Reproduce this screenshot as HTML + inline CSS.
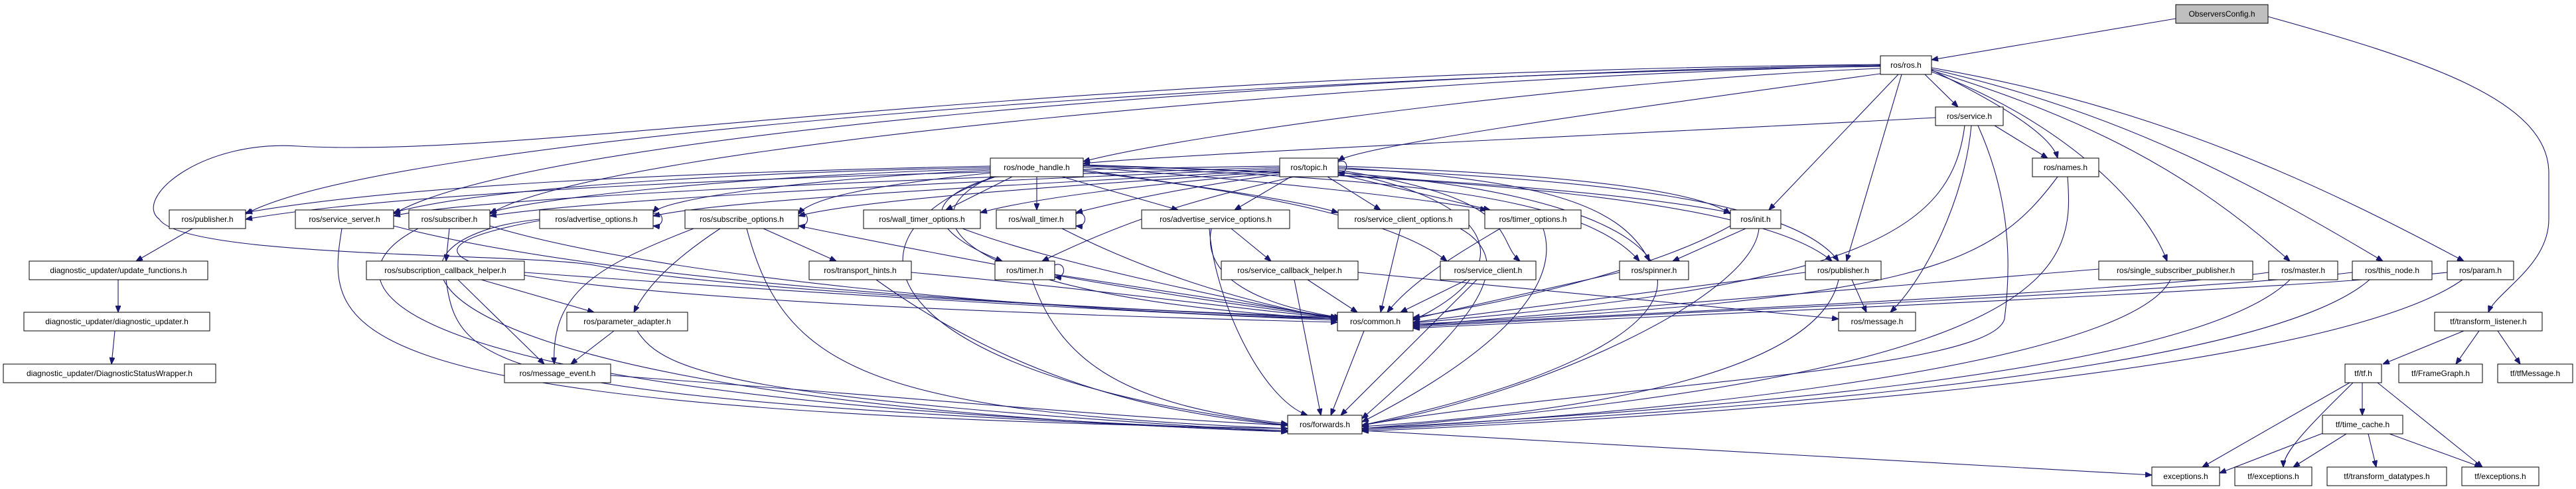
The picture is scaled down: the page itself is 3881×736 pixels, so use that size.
<!DOCTYPE html>
<html><head><meta charset="utf-8"><style>
html,body{margin:0;padding:0;background:#fff;}
svg{display:block;}
.n rect{fill:#fff;stroke:#000;stroke-width:1;}
.n text{font-family:"Liberation Sans",sans-serif;font-size:12px;fill:#000;}
.e path{fill:none;stroke:#191970;stroke-width:1.1;marker-end:url(#a);}
</style></head><body>
<svg width="3881" height="736" viewBox="0 0 3881 736" xmlns="http://www.w3.org/2000/svg">
<defs><marker id="a" markerWidth="10" markerHeight="8" refX="10" refY="4" orient="auto" markerUnits="userSpaceOnUse"><path d="M0,0 L10,4 L0,8 z" fill="#191970" stroke="#191970"/></marker></defs>
<g class="e">
<path d="M3278,28 L2910,90"/>
<path d="M3417,25 C3650,90 3840,150 3840,260 L3840,330 C3840,400 3760,440 3749,470"/>
<path d="M2833,100 C2000,110 600,200 370,322"/>
<path d="M2833,98 C2000,110 800,200 593,322"/>
<path d="M2833,99 C2100,115 900,220 738,322"/>
<path d="M2833,103 C2400,120 1800,200 1632,243"/>
<path d="M2840,110 C2400,170 2050,220 2016,242"/>
<path d="M2900,112 L2950,161"/>
<path d="M2910,105 C3000,150 3090,200 3100,238"/>
<path d="M2860,112 L2665,316"/>
<path d="M2865,112 L2782,393"/>
<path d="M2910,108 C3100,180 3230,300 3265,393"/>
<path d="M2910,106 C3150,180 3300,260 3450,393"/>
<path d="M2910,104 C3200,170 3400,280 3590,393"/>
<path d="M2910,102 C3250,160 3500,280 3712,393"/>
<path d="M2833,97 C1500,110 800,240 450,220 C300,210 200,300 240,330 C280,390 800,380 900,400 C1100,440 1800,470 2015,480"/>
<path d="M2916,177 C2500,200 1800,230 1632,246"/>
<path d="M3005,189 L3085,238"/>
<path d="M2960,189 C2940,350 2800,430 2129,486"/>
<path d="M2970,189 C2960,300 2900,420 2848,470"/>
<path d="M2980,189 C3030,300 3030,400 3020,480 C3000,560 2400,580 2052,640"/>
<path d="M3100,266 C3000,400 2900,450 2129,488"/>
<path d="M3115,266 C3125,400 3120,560 2052,645"/>
<path d="M1492,250 C1000,260 600,280 370,320"/>
<path d="M1492,252 C1000,262 700,290 593,320"/>
<path d="M1492,254 C1100,265 800,300 738,320"/>
<path d="M1492,256 C1200,270 1000,300 984,320"/>
<path d="M1495,260 C1300,280 1220,300 1203,322"/>
<path d="M1525,266 L1425,316"/>
<path d="M1562,266 L1562,316"/>
<path d="M1600,266 L1775,316"/>
<path d="M1632,256 C1800,280 1950,300 2016,320"/>
<path d="M1632,252 C1900,270 2150,300 2240,316"/>
<path d="M1632,248 C2000,260 2400,280 2607,320"/>
<path d="M1632,250 C2100,270 2380,290 2470,393"/>
<path d="M1632,249 C2200,265 2650,300 2760,393"/>
<path d="M1632,258 C1900,290 2100,330 2180,393"/>
<path d="M1500,266 C1380,300 1400,350 1510,393"/>
<path d="M1495,266 C1350,330 1450,450 2015,480"/>
<path d="M1500,266 C1250,350 1300,560 1940,640"/>
<path d="M1928,250 C1200,260 600,290 370,330"/>
<path d="M1928,252 C1300,270 700,300 593,325"/>
<path d="M1928,254 C1400,275 900,300 738,325"/>
<path d="M1928,256 C1500,280 1100,300 984,325"/>
<path d="M1928,258 C1600,280 1300,300 1203,325"/>
<path d="M1928,260 C1700,280 1550,300 1477,320"/>
<path d="M1928,262 C1800,280 1700,300 1621,320"/>
<path d="M1945,266 L1860,316"/>
<path d="M2000,266 L2080,316"/>
<path d="M2016,262 L2245,316"/>
<path d="M1950,266 C1800,300 1700,330 1570,393"/>
<path d="M2016,250 C2300,260 2550,280 2607,322"/>
<path d="M2016,252 C2300,270 2440,300 2485,393"/>
<path d="M2016,254 C2400,270 2700,300 2770,393"/>
<path d="M2016,256 C2300,300 2250,360 2290,393"/>
<path d="M2016,258 C2250,300 2300,400 2129,482"/>
<path d="M2016,260 C2600,300 2700,500 2052,640"/>
<path d="M2016,244 C2032,236 2034,262 2016,260"/>
<path d="M984,322 C1000,315 1004,342 984,340"/>
<path d="M1203,322 C1219,315 1223,342 1203,340"/>
<path d="M1621,322 C1637,315 1641,342 1621,340"/>
<path d="M1589,399 C1605,392 1609,419 1589,417"/>
<path d="M290,344 L205,393"/>
<path d="M178,421 L178,470"/>
<path d="M173,498 L168,548"/>
<path d="M593,340 C900,420 1500,460 2015,478"/>
<path d="M515,344 C490,500 480,620 1940,645"/>
<path d="M677,344 L672,393"/>
<path d="M738,340 C1000,420 1600,470 2015,480"/>
<path d="M630,344 C480,420 520,600 1940,648"/>
<path d="M813,332 C550,380 600,450 2015,485"/>
<path d="M813,330 C520,360 550,600 1940,650"/>
<path d="M1045,344 C900,400 830,440 835,548"/>
<path d="M1085,344 C1000,400 970,440 955,470"/>
<path d="M1150,344 L1260,393"/>
<path d="M1125,344 C1180,550 1300,620 1940,645"/>
<path d="M1203,340 C1400,380 1700,440 2015,478"/>
<path d="M725,421 L895,470"/>
<path d="M690,421 L820,548"/>
<path d="M790,410 C1200,440 1700,470 2015,482"/>
<path d="M672,421 C690,560 750,600 1940,650"/>
<path d="M925,498 L860,548"/>
<path d="M960,498 C1000,560 1100,600 1940,650"/>
<path d="M920,565 C1400,600 1700,630 1940,640"/>
<path d="M1373,410 C1700,440 1900,470 2015,478"/>
<path d="M1320,421 C1500,550 1700,620 1940,640"/>
<path d="M1450,344 C1600,400 1900,460 2015,480"/>
<path d="M1600,344 C1750,420 1900,460 2015,480"/>
<path d="M1589,413 L2015,478"/>
<path d="M1555,421 C1600,550 1700,610 1940,638"/>
<path d="M1855,344 L1915,393"/>
<path d="M1825,344 C1810,420 1900,460 2020,478"/>
<path d="M1822,344 C1830,450 1900,600 1970,625"/>
<path d="M1970,421 L2045,470"/>
<path d="M1950,421 L1990,625"/>
<path d="M2046,410 L2770,480"/>
<path d="M2110,344 L2080,470"/>
<path d="M2200,344 C2300,400 2200,500 2052,630"/>
<path d="M2260,344 C2200,380 2130,420 2090,470"/>
<path d="M2325,344 C2360,450 2200,560 2052,635"/>
<path d="M2210,421 L2110,470"/>
<path d="M2225,421 L2020,625"/>
<path d="M2440,410 L2129,480"/>
<path d="M2630,344 L2520,393"/>
<path d="M2607,340 C2500,400 2300,450 2129,478"/>
<path d="M2650,344 C2640,450 2300,600 2052,640"/>
<path d="M2790,421 L2812,470"/>
<path d="M2720,410 L2129,485"/>
<path d="M2770,421 C2740,560 2400,620 2052,642"/>
<path d="M3162,405 L2129,490"/>
<path d="M3270,421 C3200,560 2400,630 2052,645"/>
<path d="M3418,410 C3200,440 2500,470 2129,490"/>
<path d="M3450,421 C3300,570 2500,620 2052,645"/>
<path d="M3544,410 C3300,440 2500,470 2129,492"/>
<path d="M3570,421 C3400,570 2500,625 2052,647"/>
<path d="M3687,410 C3400,440 2500,475 2129,494"/>
<path d="M3710,421 C3500,570 2500,630 2052,649"/>
<path d="M2055,498 L2005,625"/>
<path d="M2052,648 L3242,715"/>
<path d="M3712,498 L3590,548"/>
<path d="M3735,498 L3700,548"/>
<path d="M3763,498 L3797,548"/>
<path d="M3540,576 L3318,703"/>
<path d="M3545,576 C3480,640 3440,680 3440,703"/>
<path d="M3559,576 L3559,625"/>
<path d="M3582,576 L3740,703"/>
<path d="M3505,650 L3344,712"/>
<path d="M3535,653 L3455,703"/>
<path d="M3568,653 L3580,703"/>
<path d="M3600,653 L3738,703"/>
</g>
<g class="n">
<rect x="3278" y="7" width="139" height="28" style="fill:#bfbfbf"/><text x="3347.5" y="25" text-anchor="middle">ObserversConfig.h</text>
<rect x="2833" y="84" width="77" height="28"/><text x="2871.5" y="102" text-anchor="middle">ros/ros.h</text>
<rect x="2916" y="161" width="102" height="28"/><text x="2967" y="179" text-anchor="middle">ros/service.h</text>
<rect x="1492" y="238" width="140" height="28"/><text x="1562" y="256" text-anchor="middle">ros/node_handle.h</text>
<rect x="1928" y="238" width="88" height="28"/><text x="1972" y="256" text-anchor="middle">ros/topic.h</text>
<rect x="3062" y="238" width="100" height="28"/><text x="3112" y="256" text-anchor="middle">ros/names.h</text>
<rect x="255" y="316" width="115" height="28"/><text x="312.5" y="334" text-anchor="middle">ros/publisher.h</text>
<rect x="445" y="316" width="148" height="28"/><text x="519" y="334" text-anchor="middle">ros/service_server.h</text>
<rect x="616" y="316" width="122" height="28"/><text x="677" y="334" text-anchor="middle">ros/subscriber.h</text>
<rect x="813" y="316" width="171" height="28"/><text x="898.5" y="334" text-anchor="middle">ros/advertise_options.h</text>
<rect x="1032" y="316" width="171" height="28"/><text x="1117.5" y="334" text-anchor="middle">ros/subscribe_options.h</text>
<rect x="1301" y="316" width="176" height="28"/><text x="1389" y="334" text-anchor="middle">ros/wall_timer_options.h</text>
<rect x="1501" y="316" width="120" height="28"/><text x="1561" y="334" text-anchor="middle">ros/wall_timer.h</text>
<rect x="1720" y="316" width="223" height="28"/><text x="1831.5" y="334" text-anchor="middle">ros/advertise_service_options.h</text>
<rect x="2016" y="316" width="197" height="28"/><text x="2114.5" y="334" text-anchor="middle">ros/service_client_options.h</text>
<rect x="2237" y="316" width="145" height="28"/><text x="2309.5" y="334" text-anchor="middle">ros/timer_options.h</text>
<rect x="2607" y="316" width="76" height="28"/><text x="2645" y="334" text-anchor="middle">ros/init.h</text>
<rect x="44" y="393" width="269" height="28"/><text x="178.5" y="411" text-anchor="middle">diagnostic_updater/update_functions.h</text>
<rect x="552" y="393" width="238" height="28"/><text x="671" y="411" text-anchor="middle">ros/subscription_callback_helper.h</text>
<rect x="1219" y="393" width="154" height="28"/><text x="1296" y="411" text-anchor="middle">ros/transport_hints.h</text>
<rect x="1499" y="393" width="90" height="28"/><text x="1544" y="411" text-anchor="middle">ros/timer.h</text>
<rect x="1840" y="393" width="206" height="28"/><text x="1943" y="411" text-anchor="middle">ros/service_callback_helper.h</text>
<rect x="2170" y="393" width="144" height="28"/><text x="2242" y="411" text-anchor="middle">ros/service_client.h</text>
<rect x="2440" y="393" width="104" height="28"/><text x="2492" y="411" text-anchor="middle">ros/spinner.h</text>
<rect x="2720" y="393" width="114" height="28"/><text x="2777" y="411" text-anchor="middle">ros/publisher.h</text>
<rect x="3162" y="393" width="232" height="28"/><text x="3278" y="411" text-anchor="middle">ros/single_subscriber_publisher.h</text>
<rect x="3418" y="393" width="104" height="28"/><text x="3470" y="411" text-anchor="middle">ros/master.h</text>
<rect x="3544" y="393" width="120" height="28"/><text x="3604" y="411" text-anchor="middle">ros/this_node.h</text>
<rect x="3687" y="393" width="100" height="28"/><text x="3737" y="411" text-anchor="middle">ros/param.h</text>
<rect x="36" y="470" width="280" height="28"/><text x="176" y="488" text-anchor="middle">diagnostic_updater/diagnostic_updater.h</text>
<rect x="854" y="470" width="182" height="28"/><text x="945" y="488" text-anchor="middle">ros/parameter_adapter.h</text>
<rect x="2015" y="470" width="114" height="28"/><text x="2072" y="488" text-anchor="middle">ros/common.h</text>
<rect x="2770" y="470" width="116" height="28"/><text x="2828" y="488" text-anchor="middle">ros/message.h</text>
<rect x="3668" y="470" width="162" height="28"/><text x="3749" y="488" text-anchor="middle">tf/transform_listener.h</text>
<rect x="5" y="548" width="320" height="28"/><text x="165" y="566" text-anchor="middle">diagnostic_updater/DiagnosticStatusWrapper.h</text>
<rect x="760" y="548" width="160" height="28"/><text x="840" y="566" text-anchor="middle">ros/message_event.h</text>
<rect x="3533" y="548" width="55" height="28"/><text x="3560.5" y="566" text-anchor="middle">tf/tf.h</text>
<rect x="3614" y="548" width="126" height="28"/><text x="3677" y="566" text-anchor="middle">tf/FrameGraph.h</text>
<rect x="3763" y="548" width="113" height="28"/><text x="3819.5" y="566" text-anchor="middle">tf/tfMessage.h</text>
<rect x="1940" y="625" width="112" height="28"/><text x="1996" y="643" text-anchor="middle">ros/forwards.h</text>
<rect x="3499" y="625" width="121" height="28"/><text x="3559.5" y="643" text-anchor="middle">tf/time_cache.h</text>
<rect x="3242" y="703" width="102" height="28"/><text x="3293" y="721" text-anchor="middle">exceptions.h</text>
<rect x="3367" y="703" width="116" height="28"/><text x="3425" y="721" text-anchor="middle">tf/exceptions.h</text>
<rect x="3506" y="703" width="180" height="28"/><text x="3596" y="721" text-anchor="middle">tf/transform_datatypes.h</text>
<rect x="3709" y="703" width="116" height="28"/><text x="3767" y="721" text-anchor="middle">tf/exceptions.h</text>
</g>
</svg>
</body></html>
